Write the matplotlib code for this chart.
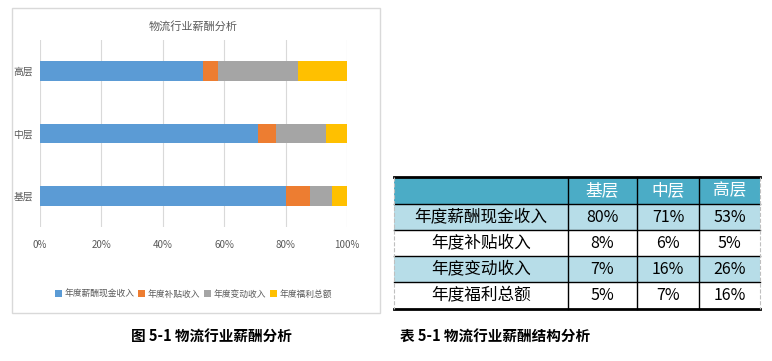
import matplotlib
matplotlib.use('Agg')
import matplotlib.pyplot as plt
from matplotlib.patches import Rectangle
from matplotlib.lines import Line2D

plt.rcParams['font.family'] = ['Noto Sans CJK SC', 'DejaVu Sans']

# data
levels = ['基层', '中层', '高层']
items = ['年度薪酬现金收入', '年度补贴收入', '年度变动收入', '年度福利总额']
cash = [80, 71, 53]
subsidy = [8, 6, 5]
variable = [7, 16, 26]
welfare = [5, 7, 16]
series = [cash, subsidy, variable, welfare]
colors = ['#5B9BD5', '#ED7D31', '#A5A5A5', '#FFC000']

W, H = 772, 361
fig = plt.figure(figsize=(W / 100, H / 100), dpi=100)
fig.patch.set_facecolor('white')


def box(x0, y0, x1, y1):
    # pixel box -> figure fraction
    return [x0 / W, 1 - y1 / H, (x1 - x0) / W, (y1 - y0) / H]


# chart frame
fig.patches.append(Rectangle((12 / W, 1 - 313 / H), 368 / W, 305 / H,
                             transform=fig.transFigure, fill=False,
                             edgecolor='#D9D9D9', linewidth=1))

ax = fig.add_axes(box(40, 40, 347, 227))
left = [0, 0, 0]
for name, vals, c in zip(items, series, colors):
    ax.barh(levels, vals, left=left, height=0.32, color=c, label=name, zorder=3)
    left = [l + v for l, v in zip(left, vals)]

ax.set_xlim(0, 100)
ax.set_ylim(-0.5, 2.5)
ax.set_xticks([0, 20, 40, 60, 80, 100])
ax.set_xticklabels([f'{t}%' for t in range(0, 101, 20)])
ax.grid(axis='x', color='#D9D9D9', linewidth=0.8, zorder=0)
for s in ax.spines.values():
    s.set_visible(False)
ax.tick_params(length=0, colors='#595959', labelsize=7)
ax.tick_params(axis='x', pad=9)
ax.tick_params(axis='y', pad=5)
ax.set_title('物流行业薪酬分析', fontsize=8, color='#595959', pad=7)
ax.legend(loc='center', bbox_to_anchor=(0.5, -0.36), ncol=4, frameon=False,
          fontsize=6.3, handlelength=0.8, handleheight=0.8, handletextpad=0.3,
          columnspacing=0.4, labelcolor='#595959')

# table
tx = [394, 568, 637, 699, 760]
ty = [177, 204, 230, 256, 282, 309]
tab = fig.add_axes([0, 0, 1, 1])
tab.set_xlim(0, W)
tab.set_ylim(H, 0)
tab.axis('off')

row_fill = ['#4BACC6', '#B7DDE8', 'white', '#B7DDE8', 'white']
for r in range(5):
    tab.add_patch(Rectangle((tx[0], ty[r]), tx[-1] - tx[0], ty[r + 1] - ty[r],
                            facecolor=row_fill[r], edgecolor='none'))

for c, lv in enumerate(levels):
    tab.text((tx[c + 1] + tx[c + 2]) / 2, (ty[0] + ty[1]) / 2, lv,
             ha='center', va='center', color='white', fontsize=12)
for r, name in enumerate(items):
    yc = (ty[r + 1] + ty[r + 2]) / 2
    tab.text((tx[0] + tx[1]) / 2, yc, name, ha='center', va='center',
             color='black', fontsize=12)
    for c in range(3):
        tab.text((tx[c + 1] + tx[c + 2]) / 2, yc, f'{series[r][c]}%',
                 ha='center', va='center', color='black', fontsize=11.5)

for i, y in enumerate(ty):
    lw = 2 if i in (0, len(ty) - 1) else 1
    tab.add_line(Line2D([tx[0], tx[-1]], [y, y], color='black', linewidth=lw))
for x in tx[1:-1]:
    tab.add_line(Line2D([x, x], [ty[0], ty[-1]], color='black', linewidth=1))
for x in (tx[0], tx[-1]):
    tab.add_line(Line2D([x, x], [ty[0], ty[-1]], color='#BFBFBF',
                        linewidth=0.8, linestyle='--'))

# captions
fig.text(131 / W, 1 - 337 / H, '图 5-1 物流行业薪酬分析', fontsize=10.5,
         fontweight='bold', va='center', ha='left')
fig.text(400 / W, 1 - 337 / H, '表 5-1 物流行业薪酬结构分析', fontsize=10.5,
         fontweight='bold', va='center', ha='left')

fig.savefig('out.png', dpi=100)
